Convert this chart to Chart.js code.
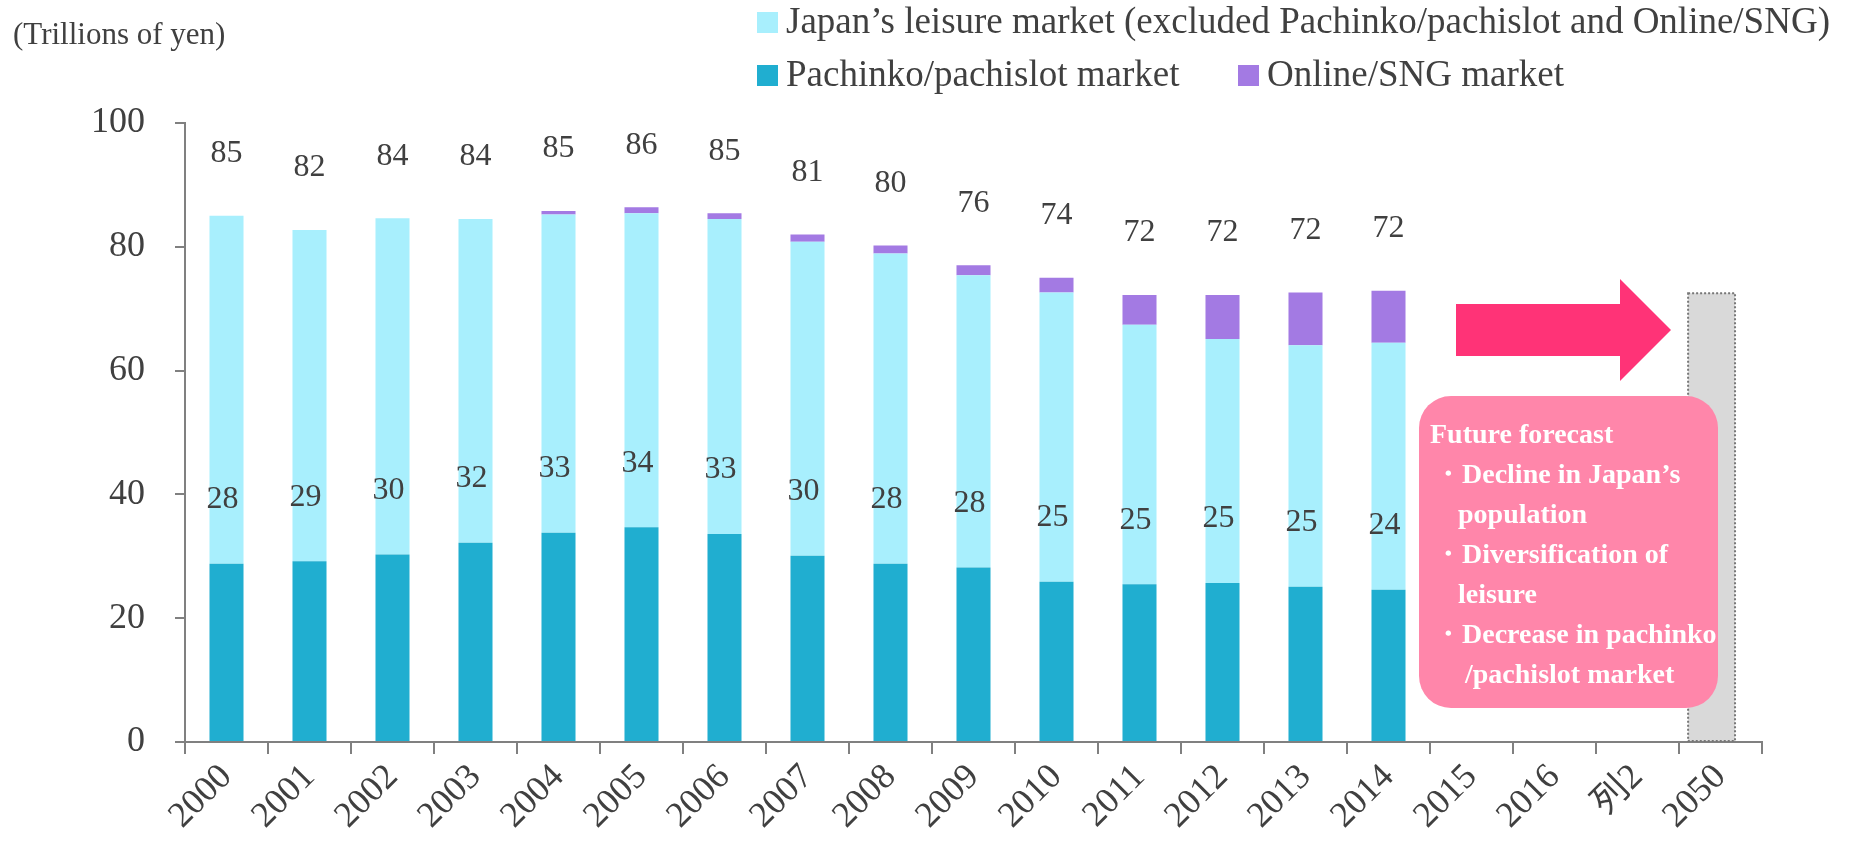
<!DOCTYPE html>
<html>
<head>
<meta charset="utf-8">
<script src="https://cdn.jsdelivr.net/npm/chart.js@4.4.1/dist/chart.umd.min.js"></script>
<style>
  body { margin: 0; background: #fff; }
  #wrap { position: relative; width: 1858px; height: 841px; font-family: 'Liberation Serif', serif; color: #404040; }
  .unit { position: absolute; left: 13px; top: 15px; font-size: 31px; line-height: 38px; }
  .leg { position: absolute; font-size: 37px; line-height: 42px; white-space: nowrap; }
  .leg i { display: inline-block; width: 21px; height: 21px; margin-right: 8px; vertical-align: 0px; }
  .nota { position: absolute; left: 1419px; top: 396px; width: 299px; height: 312px; background: #ff86aa;
          border-radius: 32px; color: #fff; font-weight: bold; font-size: 28px; line-height: 40px;
          box-sizing: border-box; padding: 18px 0 0 11px; white-space: nowrap; }
  .nota div { padding-left: 28px; }
  .nota .b { padding-left: 0; margin-left: 4px; }
</style>
</head>
<body>
<div id="wrap">
  <canvas id="grafico" width="1858" height="841"></canvas>
  <div class="unit">(Trillions of yen)</div>
  <div class="leg" style="left:757px; top:0px;"><i style="background:#a8effd"></i>Japan’s leisure market (excluded Pachinko/pachislot and Online/SNG)</div>
  <div class="leg" style="left:757px; top:53px;"><i style="background:#20aed0"></i>Pachinko/pachislot market</div>
  <div class="leg" style="left:1238px; top:53px;"><i style="background:#a37ae3"></i>Online/SNG market</div>
  <svg style="position:absolute; left:1450px; top:270px;" width="230" height="120">
    <polygon points="6,34 170,34 170,9 221,60 170,111 170,86 6,86" fill="#ff3377"/>
  </svg>
  <div class="nota">
    <div class="b" style="margin-left:0">Future forecast</div>
    <div class="b">・Decline in Japan’s</div>
    <div>population</div>
    <div class="b">・Diversification of</div>
    <div>leisure</div>
    <div class="b">・Decrease in pachinko</div>
    <div style="padding-left:35px">/pachislot market</div>
  </div>
</div>
<script>
const anios = ["2000", "2001", "2002", "2003", "2004", "2005", "2006", "2007", "2008", "2009",
               "2010", "2011", "2012", "2013", "2014", "2015", "2016", "列2", "2050"];

// valores en billones de yenes
const pachinko = [28.8, 29.2, 30.3, 32.2, 33.8, 34.7, 33.6, 30.1, 28.8, 28.2, 25.9, 25.5, 25.7, 25.1, 24.6, null, null, null, null];
const ocio     = [56.2, 53.5, 54.3, 52.3, 51.4, 50.7, 50.9, 50.7, 50.1, 47.2, 46.7, 41.9, 39.4, 39.0, 39.9, null, null, null, null];
const online   = [0, 0, 0, 0, 0.6, 1.0, 0.9, 1.2, 1.3, 1.6, 2.4, 4.8, 7.1, 8.5, 8.4, null, null, null, null];
const pronostico = [null, null, null, null, null, null, null, null, null, null, null, null, null, null, null, null, null, null, 72.5];
const vacio      = [null, null, null, null, null, null, null, null, null, null, null, null, null, null, null, null, null, null, 0];

const etiquetasTotal    = [85, 82, 84, 84, 85, 86, 85, 81, 80, 76, 74, 72, 72, 72, 72];
const etiquetasPachinko = [28, 29, 30, 32, 33, 34, 33, 30, 28, 28, 25, 25, 25, 25, 24];

const gris = '#808080';
const fuente = "'Liberation Serif', 'Noto Sans CJK JP', serif";

const etiquetasPlugin = {
    id: 'etiquetas',
    afterDatasetsDraw(chart) {
        const ctx = chart.ctx;
        const y = chart.scales.y;
        const barras = chart.getDatasetMeta(0).data;
        ctx.save();
        ctx.fillStyle = '#404040';
        ctx.font = '32px ' + fuente;
        ctx.textAlign = 'center';
        ctx.textBaseline = 'middle';
        for (let i = 0; i < etiquetasTotal.length; i++) {
            const total = pachinko[i] + ocio[i] + online[i];
            ctx.fillText(String(etiquetasTotal[i]), barras[i].x, y.getPixelForValue(total) - 62);
            ctx.fillText(String(etiquetasPachinko[i]), barras[i].x - 4, y.getPixelForValue(pachinko[i]) - 64);
        }
        // borde punteado de la barra 2050
        const b = chart.getDatasetMeta(3).data[18];
        ctx.strokeStyle = '#777';
        ctx.lineWidth = 2;
        ctx.setLineDash([2, 2]);
        ctx.strokeRect(b.x - b.width / 2, b.y, b.width, b.base - b.y);
        ctx.restore();
    }
};

const comunes = { stack: 'a', skipNull: true, categoryPercentage: 0.82, barPercentage: 0.5, borderWidth: 0 };

new Chart(document.getElementById('grafico').getContext('2d'), {
    type: 'bar',
    data: {
        labels: anios,
        datasets: [
            Object.assign({ label: 'Pachinko/pachislot market', data: pachinko, backgroundColor: '#20aed0' }, comunes),
            Object.assign({ label: 'Japan’s leisure market (excluded Pachinko/pachislot and Online/SNG)', data: ocio, backgroundColor: '#a8effd' }, comunes),
            Object.assign({ label: 'Online/SNG market', data: online, backgroundColor: '#a37ae3' }, comunes),
            { label: 'forecast', data: pronostico, backgroundColor: '#d9d9d9', stack: 'g', skipNull: true,
              categoryPercentage: 0.43, barPercentage: 2.63, borderWidth: 0 },
            { label: '', data: vacio, backgroundColor: 'rgba(0,0,0,0)', stack: 'h', skipNull: true,
              categoryPercentage: 0.43, barPercentage: 1, borderWidth: 0 }
        ]
    },
    options: {
        responsive: false,
        animation: false,
        layout: { padding: { top: 123, right: 96, left: 0, bottom: 0 } },
        plugins: { legend: { display: false }, tooltip: { enabled: false } },
        scales: {
            x: {
                stacked: true,
                afterFit: s => { s.height = 99; },
                border: { color: gris, width: 2 },
                grid: { drawOnChartArea: false, color: gris, lineWidth: 2, tickLength: 12 },
                ticks: { color: '#404040', font: { family: fuente, size: 36 }, minRotation: 45, maxRotation: 45,
                         autoSkip: false, padding: 2 }
            },
            y: {
                stacked: true,
                min: 0,
                max: 100,
                afterFit: s => { s.width = 185; },
                border: { color: gris, width: 2 },
                grid: { drawOnChartArea: false, color: gris, lineWidth: 2, tickLength: 10 },
                ticks: { stepSize: 20, color: '#404040', font: { family: fuente, size: 36 }, padding: 30 }
            }
        }
    },
    plugins: [etiquetasPlugin]
});
</script>
</body>
</html>
